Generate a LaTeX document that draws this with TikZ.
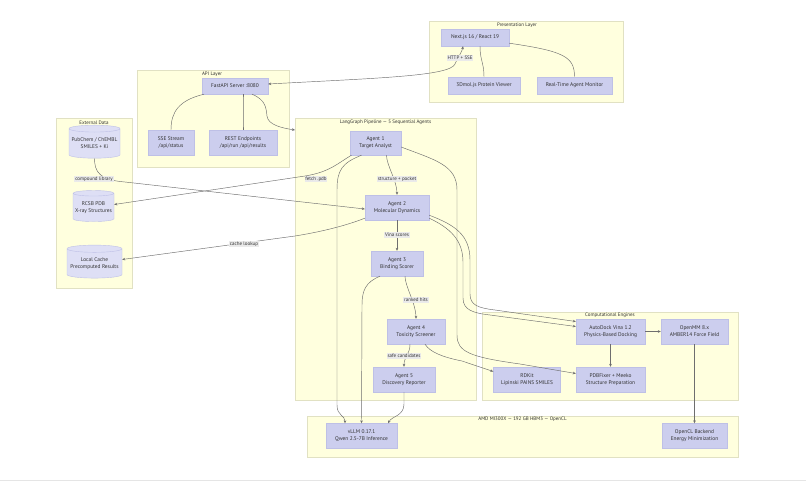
\documentclass[tikz,border=0pt]{standalone}
\usepackage{fontspec}
\setmainfont{PT Sans}
\usetikzlibrary{arrows.meta,shapes.geometric}
\definecolor{clfill}{RGB}{255,255,222}
\definecolor{cldraw}{RGB}{225,225,195}
\definecolor{ndfill}{RGB}{204,206,238}
\definecolor{nddraw}{RGB}{190,192,230}
\definecolor{dbfill}{RGB}{222,223,245}
\definecolor{lncol}{RGB}{110,110,110}
\definecolor{lblfill}{RGB}{234,234,234}
\definecolor{txtcol}{RGB}{50,50,50}
\begin{document}
\begin{tikzpicture}[x=1pt,y=-1pt,
  font=\fontsize{5.4}{6.9}\selectfont, text=txtcol,
  cluster/.style={draw=cldraw, fill=clfill, line width=0.5pt, anchor=north west, inner sep=0pt},
  ctitle/.style={font=\fontsize{5}{6}\selectfont, text=txtcol, inner sep=0pt},
  box/.style={draw=nddraw, fill=ndfill, line width=0.4pt, align=center, inner sep=0pt},
  db/.style={cylinder, shape border rotate=90, aspect=0.15, draw=nddraw, fill=dbfill, line width=0.4pt, align=center, inner sep=0pt},
  conn/.style={draw=lncol, line width=0.45pt},
  arr/.style={conn, -{Stealth[length=3pt,width=2.6pt]}},
  biarr/.style={conn, {Stealth[length=3pt,width=2.6pt]}-{Stealth[length=3pt,width=2.6pt]}},
  elabel/.style={fill=lblfill, inner sep=0.8pt, font=\fontsize{5}{6}\selectfont},
]
\useasboundingbox (0,0) rectangle (806,482);
\fill[white] (0,0) rectangle (806,482);
\draw[black!10, line width=0.8pt] (0,480.5) -- (806,480.5);

% clusters
\node[cluster, minimum width=194, minimum height=81] (presL) at (429,21) {};
\node[ctitle] at (517,25.5) {Presentation Layer};
\node[cluster, minimum width=152, minimum height=97] (apiL) at (137,70) {};
\node[ctitle] at (212,74.5) {API Layer};
\node[cluster, minimum width=76, minimum height=170] (extL) at (56,118) {};
\node[ctitle] at (94,122.5) {External Data};
\node[cluster, minimum width=181, minimum height=282] (lg) at (295,118) {};
\node[ctitle] at (385.5,122.5) {LangGraph Pipeline — 5 Sequential Agents};
\node[cluster, minimum width=256, minimum height=88] (compL) at (482,312) {};
\node[ctitle] at (610,315.5) {Computational Engines};
\node[cluster, minimum width=431, minimum height=41] (amdL) at (307,416) {};
\node[ctitle] at (522.5,419.5) {AMD MI300X — 192 GB HBM3 — OpenCL};

% nodes
\node[box, minimum width=68, minimum height=17] (next) at (475,37.5) {Next.js 16 / React 19};
\node[box, minimum width=72, minimum height=17] (viewer) at (484,85.5) {3Dmol.js Protein Viewer};
\node[box, minimum width=75, minimum height=17] (monitor) at (574.5,85.5) {Real-Time Agent Monitor};
\node[box, minimum width=66, minimum height=16] (fastapi) at (235,86) {FastAPI Server :8080};
\node[box, minimum width=46, minimum height=25] (sse) at (171,142.5) {SSE Stream\\/api/status};
\node[box, minimum width=68, minimum height=25] (rest) at (243,142.5) {REST Endpoints\\/api/run /api/results};
\node[db, minimum width=51, minimum height=33] (pubchem) at (94.5,143.5) {PubChem / ChEMBL\\SMILES + Ki};
\node[db, minimum width=41, minimum height=31] (rcsb) at (93.5,207.5) {RCSB PDB\\X-ray Structures};
\node[db, minimum width=55, minimum height=33] (cache) at (94.5,263.5) {Local Cache\\Precomputed Results};
\node[box, minimum width=51, minimum height=24] (a1) at (375.5,143) {Agent 1\\Target Analyst};
\node[box, minimum width=64, minimum height=25] (a2) at (397,207.5) {Agent 2\\Molecular Dynamics};
\node[box, minimum width=52, minimum height=25] (a3) at (397,263.5) {Agent 3\\Binding Scorer};
\node[box, minimum width=58, minimum height=25] (a4) at (416,331.5) {Agent 4\\Toxicity Screener};
\node[box, minimum width=62, minimum height=25] (a5) at (404,379.5) {Agent 5\\Discovery Reporter};
\node[box, minimum width=69, minimum height=25] (vina) at (610.5,331.5) {AutoDock Vina 1.2\\Physics-Based Docking};
\node[box, minimum width=67, minimum height=25] (openmm) at (694.5,331.5) {OpenMM 8.x\\AMBER14 Force Field};
\node[box, minimum width=67, minimum height=25] (rdkit) at (527,379.5) {RDKit\\Lipinski PAINS SMILES};
\node[box, minimum width=69, minimum height=25] (pdbfix) at (610.5,379.5) {PDBFixer + Meeko\\Structure Preparation};
\node[box, minimum width=71, minimum height=25] (vllm) at (361.5,436) {vLLM 0.17.1\\Qwen 2.5-7B Inference};
\node[box, minimum width=65, minimum height=25] (opencl) at (694.5,436) {OpenCL Backend\\Energy Minimization};

% connectors
\draw[conn] ([xshift=5pt]next.south) .. controls +(0,14) and +(0,-14) .. (viewer.north);
\draw[conn] ([yshift=3pt]next.south east) .. controls +(55,8) and +(0,-20) .. (monitor.north);
\draw[biarr] ([yshift=2pt]fastapi.east) .. controls (380,78) and (450,76) .. (455,64) .. controls (458,57) and (462,52) .. ([xshift=-12pt]next.south);
\draw[conn] ([xshift=-31pt]fastapi.south) .. controls +(-25,6) and +(0,-18) .. (sse.north);
\draw[conn] ([xshift=8pt]fastapi.south) .. controls +(0,15) and +(0,-15) .. (rest.north);
\draw[arr] ([xshift=17pt]fastapi.south) .. controls (266,100) and (266,108) .. (267,116) .. controls (268,125) and (282,128) .. ([yshift=-12pt]lg.north west);

\draw[arr] ([xshift=-24pt]a1.south) .. controls (338,163) and (330,172) .. (305,176) -- ([yshift=3pt]rcsb.east);
\draw[arr] (pubchem.south) .. controls +(0,14) and (100,180) .. (125,182) -- ([yshift=-1.5pt]a2.west);
\draw[arr] ([xshift=11pt]a1.south) .. controls +(0,10) and +(0,-14) .. (a2.north);
\draw[arr] ([yshift=2pt]a2.south west) .. controls (345,226) and (320,232) .. (295,236) -- ([yshift=4pt]cache.east);
\draw[arr] (a2.south) -- (a3.north);
\draw[arr] ([xshift=8pt]a3.south) .. controls +(0,10) and +(0,-15) .. (a4.north);
\draw[arr] ([xshift=-6pt]a4.south) .. controls +(0,10) and +(0,-10) .. (a5.north);

\draw[arr] ([xshift=-14pt]a1.south) .. controls (342,163) and (337,170) .. (337,190) -- (337,405) .. controls (337,416) and (345,415) .. ([xshift=-16.5pt]vllm.north);
\draw[arr] ([xshift=-17pt]a3.south) .. controls (366,282) and (362,290) .. (362,305) -- (vllm.north);
\draw[arr] (a5.south) -- (404,404) .. controls (404,416) and (392,416) .. ([xshift=26.5pt]vllm.north);

\draw[arr] ([yshift=-4pt]a1.east) .. controls (435,160) and (457,165) .. (457,190) -- (457,335) .. controls (457,352) and (470,357) .. (520,364) -- ([yshift=6pt]pdbfix.west);
\draw[arr] ([yshift=5pt]a2.south east) .. controls (455,225) and (470,235) .. (470,260) -- (470,294) .. controls (470,305) and (478,308) .. (495,310) -- ([yshift=10pt]vina.west);
\draw[arr] ([yshift=2pt]a2.south east) .. controls (450,228) and (463,240) .. (463,262) -- (463,298) .. controls (463,310) and (473,313) .. (490,315) -- ([yshift=5pt]vina.west);
\draw[arr] ([xshift=9pt]a4.south) .. controls (430,352) and (442,357) .. (462,361) -- ([yshift=8pt]rdkit.west);

\draw[arr] (vina.east) -- (openmm.west);
\draw[arr] (vina.south) -- (pdbfix.north);
\draw[arr] (openmm.south) -- (opencl.north);

% edge labels
\node[elabel] (lhttp) at (460,58) {HTTP + SSE};
\node[elabel] (lfetch) at (316,179) {fetch .pdb};
\node[elabel] (lstruct) at (397,179) {structure + pocket};
\node[elabel] (lcomp) at (94,179) {compound library};
\node[elabel] (lcache) at (244,244) {cache lookup};
\node[elabel] (lvina) at (397,235) {Vina scores};
\node[elabel] (lrank) at (416,300) {ranked hits};
\node[elabel] (lsafe) at (404,356) {safe candidates};
\end{tikzpicture}
\end{document}
